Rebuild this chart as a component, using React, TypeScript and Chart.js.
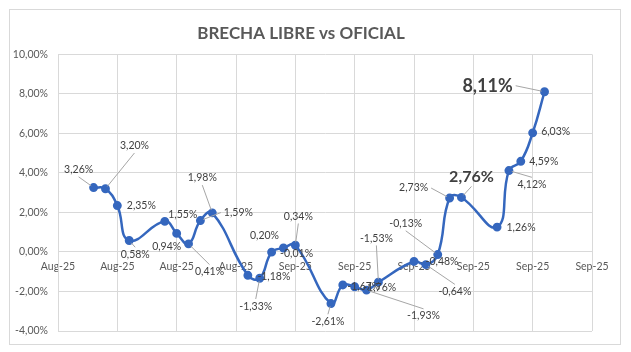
import React, { useEffect, useRef } from "react";
import { Chart, registerables } from "chart.js";

Chart.register(...registerables);

// ---- data ----
const chartTitle = "BRECHA LIBRE vs OFICIAL";
// position of each observation on the date axis (days from the first axis tick)
const days = [3, 4, 5, 6, 9, 10, 11, 12, 13, 16, 17, 18, 19, 20, 23, 24, 25, 26, 27, 30, 31, 32, 33, 34, 37, 38, 39, 40, 41];
const brecha = [3.26, 3.2, 2.35, 0.58, 1.55, 0.94, 0.41, 1.59, 1.98, -1.18, -1.33, -0.01, 0.2, 0.34, -2.61, -1.67, -1.76, -1.93, -1.53, -0.48, -0.64, -0.13, 2.73, 2.76, 1.26, 4.12, 4.59, 6.03, 8.11];
const xTickLabels = ["Aug-25", "Aug-25", "Aug-25", "Aug-25", "Sep-25", "Sep-25", "Sep-25", "Sep-25", "Sep-25", "Sep-25"];
const highlighted = [23, 28];

// ---- label placement (offset of label centre from its point, leader line flag) ----
const labelPlacement: [number, number, boolean][] = [
  [-15, -18, true], [29, -43, true], [24, 0, false], [6, 14, true], [18, -7, false],
  [-10, 13, false], [21, 28, true], [38, -8, true], [-10, -35, true], [26, 1, false],
  [-4, 28, true], [25, 1, false], [-19, -12, false], [3, -29, true], [-3, 18, true],
  [21, 2, false], [25, 1, false], [57, 26, true], [-2, -44, true], [28, 0, false],
  [29, 27, true], [-32, -31, true], [-36, -10, true], [10, -21, true], [24, 1, false],
  [23, 14, true], [23, 0, false], [23, -1, false], [-57, -6, true],
];

const FONT = "Lato, 'Open Sans', sans-serif";
const fmtPct = (v: number) => v.toFixed(2).replace(".", ",") + "%";

const framePlugin = {
  id: "frame",
  beforeDraw(chart: any) {
    const { ctx, width, height } = chart;
    ctx.save();
    ctx.fillStyle = "#ffffff";
    ctx.fillRect(0, 0, width, height);
    ctx.strokeStyle = "#d9d9d9";
    ctx.lineWidth = 1;
    ctx.strokeRect(9.5, 9.5, width - 20, height - 17);
    ctx.restore();
  },
};

const labelPlugin = {
  id: "pointLabels",
  afterDatasetsDraw(chart: any) {
    const ctx = chart.ctx;
    const meta = chart.getDatasetMeta(0);
    ctx.save();
    ctx.textAlign = "center";
    ctx.textBaseline = "middle";
    meta.data.forEach((pt: any, i: number) => {
      const pl = labelPlacement[i];
      if (!pl) return;
      const big = highlighted.includes(i);
      const size = i === 28 ? 18 : big ? 16 : 10.5;
      ctx.font = `${big ? "bold " : ""}${size}px ${FONT}`;
      const text = fmtPct(brecha[i]);
      const w = ctx.measureText(text).width;
      const h = size;
      const cx = pt.x + pl[0];
      const cy = pt.y + pl[1];
      if (pl[2]) {
        const dx = pt.x - cx;
        const dy = pt.y - cy;
        const hw = w / 2 + 3;
        const hh = h / 2 + 2;
        let sx: number, sy: number;
        if (Math.abs(dy) / hh > Math.abs(dx) / hw) {
          sx = cx;
          sy = cy + (dy > 0 ? hh : -hh);
        } else {
          sx = cx + (dx > 0 ? hw : -hw);
          sy = cy;
        }
        const len = Math.hypot(pt.x - sx, pt.y - sy);
        if (len > 4) {
          const ex = pt.x - ((pt.x - sx) / len) * 3;
          const ey = pt.y - ((pt.y - sy) / len) * 3;
          ctx.strokeStyle = "#a6a6a6";
          ctx.lineWidth = 1;
          ctx.beginPath();
          ctx.moveTo(sx, sy);
          ctx.lineTo(ex, ey);
          ctx.stroke();
        }
      }
      ctx.fillStyle = big ? "#404040" : "#404040";
      ctx.fillText(text, cx, cy);
    });
    ctx.restore();
  },
};

export default function App() {
  const canvasRef = useRef<HTMLCanvasElement | null>(null);

  useEffect(() => {
    if (!canvasRef.current) return;
    const chart = new Chart(canvasRef.current, {
      type: "line",
      data: {
        datasets: [
          {
            label: chartTitle,
            data: days.map((d, i) => ({ x: d, y: brecha[i] })),
            borderColor: "#3567BE",
            backgroundColor: "#3567BE",
            borderWidth: 2.5,
            pointRadius: 3.2,
            pointBackgroundColor: "#3567BE",
            pointBorderColor: "#3567BE",
            tension: 0.45,
          },
        ],
      },
      options: {
        animation: false,
        responsive: false,
        maintainAspectRatio: false,
        layout: { padding: { left: 10, right: 39, top: 0, bottom: 21 } },
        plugins: {
          legend: { display: false },
          tooltip: { enabled: false },
          title: {
            display: true,
            text: chartTitle,
            color: "#595959",
            font: { family: FONT, size: 17, weight: "bold" },
            padding: { top: 23, bottom: 11 },
          },
        },
        scales: {
          x: {
            type: "linear",
            position: { y: 0 } as any,
            min: 0,
            max: 45,
            ticks: {
              stepSize: 5,
              color: "#595959",
              font: { family: FONT, size: 10.5 },
              padding: 8,
              maxRotation: 0,
              autoSkip: false,
              callback: (_v: any, idx: number) => xTickLabels[idx] ?? "",
            },
            grid: { color: "#d9d9d9", drawTicks: false },
            border: { color: "#d9d9d9" },
          },
          y: {
            min: -4,
            max: 10,
            ticks: {
              stepSize: 2,
              color: "#595959",
              font: { family: FONT, size: 10.5 },
              padding: 10,
              callback: (v: any) => fmtPct(Number(v)),
            },
            grid: { color: "#d9d9d9", drawTicks: false },
            border: { color: "#d9d9d9" },
            afterFit: (s: any) => {
              s.width = 48;
            },
          },
        },
      },
      plugins: [framePlugin, labelPlugin],
    });
    return () => chart.destroy();
  }, []);

  return (
    <div style={{ position: "fixed", left: 0, top: 0, width: 631, height: 352, background: "#fff" }}>
      <canvas ref={canvasRef} width={631} height={352} style={{ width: 631, height: 352, display: "block" }} />
    </div>
  );
}
